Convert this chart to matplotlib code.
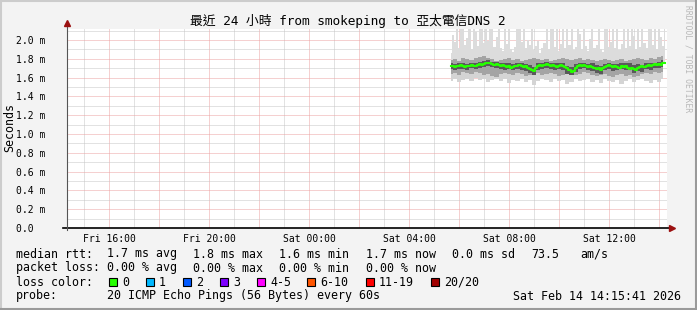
import datetime as dt
import matplotlib
matplotlib.use("Agg")
import matplotlib.pyplot as plt
import matplotlib.dates as mdates
from matplotlib.patches import Rectangle
from matplotlib.lines import Line2D
from matplotlib.ticker import FuncFormatter

plt.rcParams['font.family'] = ['DejaVu Sans Mono', 'Noto Sans CJK TC']

############################################
### data (milliseconds)

start = dt.datetime(2026, 2, 13, 14, 19)
end = dt.datetime(2026, 2, 14, 14, 19)
t5 = [dt.datetime(2026, 2, 14, 5, 40) + dt.timedelta(minutes=5 * i) for i in range(104)]
t10 = t5[::2]

median_ms = [
    1.72, 1.72, 1.71, 1.72, 1.72, 1.73, 1.72, 1.71, 1.72, 1.72,
    1.73, 1.72, 1.72, 1.73, 1.74, 1.73, 1.74, 1.75, 1.76, 1.75,
    1.74, 1.73, 1.74, 1.73, 1.72, 1.73, 1.72, 1.71, 1.72, 1.70,
    1.71, 1.72, 1.72, 1.73, 1.72, 1.71, 1.72, 1.70, 1.69, 1.68,
    1.67, 1.70, 1.72, 1.73, 1.72, 1.73, 1.74, 1.73, 1.72, 1.73,
    1.72, 1.71, 1.72, 1.73, 1.72, 1.71, 1.70, 1.68, 1.66, 1.67,
    1.70, 1.72, 1.73, 1.72, 1.73, 1.72, 1.71, 1.72, 1.71, 1.70,
    1.69, 1.70, 1.68, 1.70, 1.71, 1.72, 1.73, 1.72, 1.71, 1.72,
    1.71, 1.70, 1.72, 1.71, 1.72, 1.70, 1.69, 1.70, 1.69, 1.68,
    1.70, 1.71, 1.72, 1.71, 1.72, 1.73, 1.72, 1.73, 1.74, 1.73,
    1.74, 1.73, 1.75, 1.76]

max_ms = [
    1.86, 2.05, 1.98, 2.15, 1.92, 2.15, 2.15, 1.95, 2.02, 2.15,
    1.90, 2.15, 2.08, 1.94, 2.15, 2.15, 1.97, 2.15, 1.99, 2.15,
    2.15, 1.93, 2.03, 2.15, 1.91, 1.88, 2.15, 1.96, 2.15, 1.90,
    1.87, 1.93, 2.15, 2.15, 1.98, 2.15, 1.92, 2.00, 1.95, 2.15,
    1.89, 1.94, 1.99, 1.86, 1.92, 1.97, 2.15, 1.90, 2.15, 2.15,
    1.93, 2.15, 1.88, 1.96, 2.15, 1.91, 2.15, 1.95, 2.15, 1.89,
    1.93, 2.15, 2.06, 1.90, 2.15, 1.94, 1.88, 2.01, 2.15, 1.92,
    1.95, 2.15, 1.90, 1.87, 2.15, 2.15, 1.93, 1.98, 2.15, 1.91,
    2.15, 1.89, 1.96, 2.15, 1.92, 2.15, 1.94, 2.15, 2.04, 1.90,
    2.15, 1.93, 2.15, 1.97, 1.91, 2.15, 2.15, 1.95, 2.15, 1.90,
    2.15, 2.03, 1.94, 2.15]

min_ms = [
    1.56, 1.58, 1.55, 1.57, 1.59, 1.56, 1.60, 1.57, 1.58, 1.55,
    1.57, 1.59, 1.56, 1.58, 1.54, 1.57, 1.56, 1.59, 1.55, 1.57,
    1.52, 1.56, 1.58, 1.57, 1.55, 1.59, 1.56, 1.57, 1.53, 1.55,
    1.58, 1.56, 1.57, 1.59, 1.55, 1.57, 1.54, 1.58, 1.56, 1.55,
    1.57, 1.53, 1.56, 1.58, 1.55, 1.57, 1.59, 1.56, 1.54, 1.57,
    1.55, 1.58]

mid_lo = [
    1.64, 1.65, 1.63, 1.66, 1.65, 1.64, 1.66, 1.65, 1.63, 1.64,
    1.62, 1.61, 1.64, 1.65, 1.64, 1.63, 1.65, 1.64, 1.62, 1.63,
    1.64, 1.65, 1.63, 1.64, 1.65, 1.64, 1.62, 1.63, 1.64, 1.65,
    1.63, 1.64, 1.66, 1.65, 1.63, 1.62, 1.63, 1.64, 1.62, 1.61,
    1.63, 1.64, 1.62, 1.63, 1.61, 1.62, 1.64, 1.65, 1.64, 1.66,
    1.65, 1.66]
mid_hi = [
    1.79, 1.80, 1.78, 1.81, 1.80, 1.79, 1.81, 1.82, 1.83, 1.81,
    1.80, 1.78, 1.79, 1.80, 1.81, 1.79, 1.80, 1.78, 1.79, 1.80,
    1.81, 1.80, 1.79, 1.80, 1.78, 1.79, 1.80, 1.81, 1.80, 1.79,
    1.80, 1.81, 1.79, 1.80, 1.79, 1.78, 1.79, 1.80, 1.79, 1.78,
    1.79, 1.80, 1.78, 1.79, 1.80, 1.81, 1.80, 1.79, 1.81, 1.80,
    1.82, 1.83]

dark_lo = [
    1.69, 1.68, 1.69, 1.69, 1.68, 1.70, 1.69, 1.70, 1.71, 1.72,
    1.71, 1.70, 1.69, 1.68, 1.69, 1.68, 1.69, 1.68, 1.67, 1.65,
    1.63, 1.68, 1.69, 1.70, 1.69, 1.68, 1.69, 1.68, 1.64, 1.63,
    1.66, 1.69, 1.70, 1.68, 1.67, 1.65, 1.64, 1.68, 1.69, 1.67,
    1.68, 1.69, 1.68, 1.69, 1.65, 1.67, 1.66, 1.69, 1.68, 1.70,
    1.70, 1.71]
dark_hi = [
    1.75, 1.74, 1.75, 1.76, 1.74, 1.76, 1.75, 1.77, 1.78, 1.79,
    1.77, 1.77, 1.75, 1.76, 1.75, 1.74, 1.75, 1.76, 1.74, 1.73,
    1.71, 1.75, 1.76, 1.77, 1.75, 1.75, 1.76, 1.75, 1.72, 1.71,
    1.74, 1.76, 1.76, 1.74, 1.75, 1.73, 1.72, 1.74, 1.76, 1.74,
    1.74, 1.75, 1.76, 1.75, 1.73, 1.74, 1.73, 1.75, 1.76, 1.76,
    1.77, 1.79]

yticks = [0.0, 0.2, 0.4, 0.6, 0.8, 1.0, 1.2, 1.4, 1.6, 1.8, 2.0]
ytick_labels = ['0.0  ', '0.2 m', '0.4 m', '0.6 m', '0.8 m', '1.0 m',
                '1.2 m', '1.4 m', '1.6 m', '1.8 m', '2.0 m']

loss_labels = ['0', '1', '2', '3', '4-5', '6-10', '11-19', '20/20']
loss_colors = ['#26ff00', '#00b8ff', '#0059ff', '#7e00ff', '#ff00ff',
               '#ff5500', '#ff0000', '#a00000']
loss_box_x = [109, 146, 183, 220, 257, 307, 366, 431]

############################################
W, H = 697, 310
fig = plt.figure(figsize=(W / 100, H / 100), dpi=100, facecolor='#f3f3f3')

def fx(px):
    return px / W

def fy(py):
    return 1 - py / H

ax = fig.add_axes([fx(67), fy(228), fx(667) - fx(67), (228 - 29) / H])
ax.set_facecolor('white')
for s in ax.spines.values():
    s.set_visible(False)

ax.set_xlim(start, end)
ax.set_ylim(0, 2.117)

# grid
ax.xaxis.set_major_locator(mdates.HourLocator(byhour=range(0, 24, 2)))
ax.xaxis.set_minor_locator(mdates.HourLocator())
ax.xaxis.set_major_formatter(FuncFormatter(
    lambda v, p: mdates.num2date(v).strftime('%a %H:%M') if mdates.num2date(v).hour % 4 == 0 else ''))
ax.set_yticks(yticks)
ax.set_yticks([y + 0.1 for y in yticks], minor=True)
ax.set_yticklabels(ytick_labels, ha='left')
ax.grid(which='minor', color='#c6c6c6', linestyle=(0, (1, 1)), linewidth=0.72)
ax.grid(which='major', color='#eca2a2', linestyle=(0, (1, 1)), linewidth=0.72)
ax.set_axisbelow(True)
ax.tick_params(which='both', length=0, labelsize=7, colors='black')
ax.tick_params(axis='x', pad=4)
ax.tick_params(axis='y', pad=37)

# smoke
ax.fill_between(t5, median_ms, max_ms, step='mid', color='#dcdcdc', lw=0)
ax.fill_between(t10, min_ms, mid_lo, step='mid', color='#d4d4d4', lw=0)
ax.fill_between(t10, mid_lo, mid_hi, step='mid', color='#a4a4a4', lw=0)
ax.fill_between(t10, dark_lo, dark_hi, step='mid', color='#5a5a5a', lw=0)
ax.plot(t5, median_ms, drawstyle='steps-mid', color='#26ff00', lw=1.5)

# axes with arrows
ax.plot([-0.006, 1.005], [0, 0], transform=ax.transAxes, color='black', lw=1.2, clip_on=False)
ax.plot([0, 0], [-0.012, 1.02], transform=ax.transAxes, color='#555555', lw=0.8, clip_on=False)
ax.plot([1.008], [0], transform=ax.transAxes, marker='>', ms=5, color='#9b1010', clip_on=False)
ax.plot([0], [1.032], transform=ax.transAxes, marker='^', ms=5, color='#9b1010', clip_on=False)

# texts
fig.text(fx(348), fy(21), '最近 24 小時 from smokeping to 亞太電信DNS 2',
         ha='center', va='center', fontsize=9.2)
fig.text(fx(10), fy(128), 'Seconds', rotation=90, ha='center', va='center', fontsize=8.4)
fig.text(fx(688), fy(5), 'RRDTOOL / TOBI OETIKER', rotation=270, ha='center', va='top',
         fontsize=5.8, color='#b8b8b8')

fs = 8.4
rows = [
    (254, [(16, 'median rtt:'), (107, '1.7 ms avg'), (193, '1.8 ms max'), (279, '1.6 ms min'),
           (366, '1.7 ms now'), (452, '0.0 ms sd'), (531, '73.5'), (580, 'am/s')]),
    (268, [(16, 'packet loss:'), (107, '0.00 % avg'), (193, '0.00 % max'), (279, '0.00 % min'),
           (366, '0.00 % now')]),
    (282, [(16, 'loss color:')]),
    (296, [(16, 'probe:'), (107, '20 ICMP Echo Pings (56 Bytes) every 60s'),
           (513, 'Sat Feb 14 14:15:41 2026')]),
]
for ypx, items in rows:
    for xpx, txt in items:
        fig.text(fx(xpx), fy(ypx), txt, ha='left', va='center', fontsize=fs)

for bx, lab, col in zip(loss_box_x, loss_labels, loss_colors):
    fig.add_artist(Rectangle((fx(bx), fy(286)), fx(8), 8 / H, facecolor=col,
                             edgecolor='black', lw=0.8, transform=fig.transFigure))
    fig.text(fx(bx + 13), fy(282), lab, ha='left', va='center', fontsize=fs)

# 3d frame
fig.add_artist(Line2D([fx(1), fx(1)], [0, 1], color='#cccccc', lw=1.5, transform=fig.transFigure))
fig.add_artist(Line2D([0, 1], [fy(1), fy(1)], color='#cccccc', lw=1.5, transform=fig.transFigure))
fig.add_artist(Line2D([fx(W - 1), fx(W - 1)], [0, 1], color='#9a9a9a', lw=1.5, transform=fig.transFigure))
fig.add_artist(Line2D([0, 1], [fy(H - 1), fy(H - 1)], color='#9a9a9a', lw=1.5, transform=fig.transFigure))

fig.savefig('out.png', dpi=100, facecolor=fig.get_facecolor())
